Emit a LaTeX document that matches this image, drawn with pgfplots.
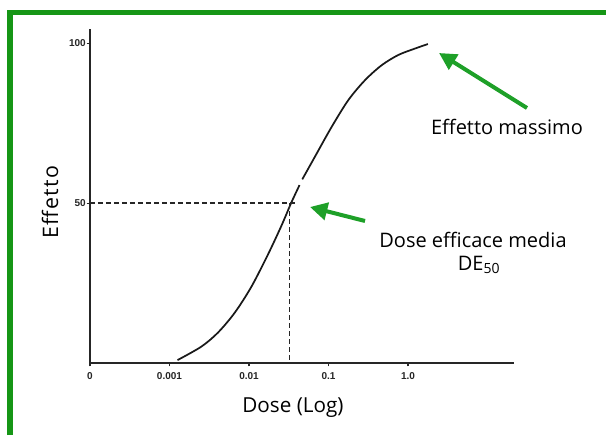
\documentclass[border=0pt]{standalone}
\usepackage{pgfplots}
\pgfplotsset{compat=1.18}
\usepackage{fontspec}
\setmainfont{Open Sans}
\newfontfamily\tickfont{Liberation Sans}
\usetikzlibrary{arrows.meta}
\definecolor{frame}{RGB}{22,150,22}
\definecolor{arrowgreen}{RGB}{30,160,40}
\begin{document}
\begin{tikzpicture}
\useasboundingbox (0,0) rectangle (454.5pt,326.25pt);
\fill[white] (0,0) rectangle (454.5pt,326.25pt);
% green frame, top and left only
\draw[frame, line width=4pt] (7.5pt,0) -- (7.5pt,316.9pt) -- (454.5pt,316.9pt);

\begin{axis}[
    at={(67.5pt,54pt)},
    anchor=south west,
    scale only axis,
    width=317.8pt,
    height=250.5pt,
    xmode=log,
    xmin=1e-4, xmax=21.4,
    ymin=0, ymax=104.4,
    axis x line*=bottom,
    axis y line*=left,
    axis line style={line width=1pt, black!85},
    xtick={1e-4,1e-3,1e-2,1e-1,1},
    xticklabels={0,0.001,0.01,0.1,1.0},
    ytick={50,100},
    yticklabels={50,100},
    xminorticks=false,
    tick align=outside,
    major tick length=2.5pt,
    tick style={line width=0.8pt, black!85},
    /pgf/number format/assume math mode=true,
    ticklabel style={font=\tickfont\bfseries\fontsize{7.5}{8}\selectfont, black!85},
    xticklabel style={yshift=-1pt},
    yticklabel style={inner sep=0.5pt},
    xlabel={Dose (Log)},
    ylabel={\addfontfeature{LetterSpace=6}Effetto},
    every axis x label/.style={at={(axis description cs:0.479,-0.135)}, anchor=center, font=\fontsize{15.5}{18}\selectfont},
    every axis y label/.style={at={(axis description cs:-0.094,0.482)}, anchor=center, rotate=90, font=\fontsize{16}{18}\selectfont},
    clip=false,
]
% dose-response curve (drawn in two pieces, as in the original)
\addplot[smooth, line width=1.3pt, black!90] coordinates {
    (0.00126,0.9) (0.00251,5.1) (0.00407,9.5) (0.00661,15.7) (0.0107,23.8)
    (0.0174,34) (0.0257,43) (0.0339,50) (0.0432,55.6)
};
\addplot[smooth, line width=1.3pt, black!90] coordinates {
    (0.0468,57.4) (0.0676,64.5) (0.1096,73.8) (0.178,82.2) (0.288,88.4)
    (0.468,93.1) (0.759,96.3) (1.23,98.3) (1.78,99.7)
};
% DE50 guide lines
\addplot[line width=1pt, black!85, dash pattern=on 3.75pt off 2.25pt] coordinates {(1e-4,50) (0.040,50)};
\addplot[line width=1pt, black!85, dash pattern=on 3.75pt off 2.25pt] coordinates {(0.0325,50) (0.0325,0)};
\end{axis}

% annotations
\draw[arrowgreen, line width=3pt, -{Triangle[length=13pt,width=13pt]}] (395.25pt,245.25pt) -- (329.25pt,286.5pt);
\draw[arrowgreen, line width=3pt, -{Triangle[length=13pt,width=13pt]}] (273.75pt,160.5pt) -- (232.5pt,171pt);
\node[font=\fontsize{15}{18}\selectfont] at (380.25pt,231pt) {Effetto massimo};
\node[font=\fontsize{15}{18}\selectfont] at (354.75pt,146.25pt) {Dose efficace media};
\node[font=\fontsize{15}{18}\selectfont] at (359.25pt,127.5pt) {DE\textsubscript{50}};
\end{tikzpicture}
\end{document}
